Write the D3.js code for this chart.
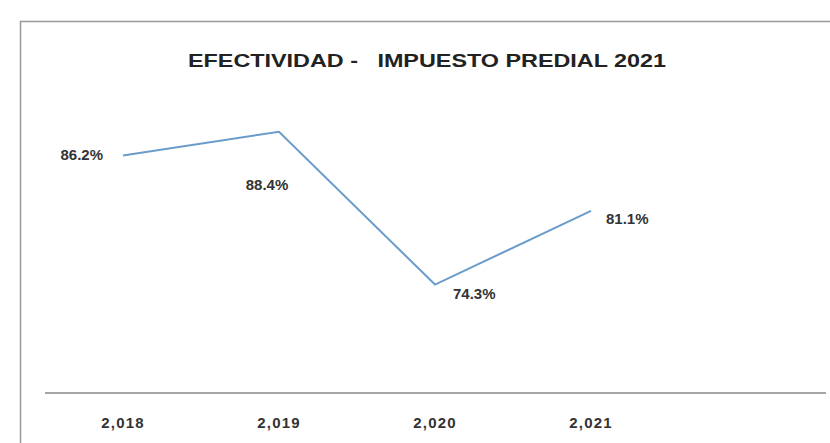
<!DOCTYPE html>
<html><head><meta charset="utf-8">
<script src="https://cdn.jsdelivr.net/npm/d3@7"></script>
<style>body{margin:0;background:#fff}svg{display:block}</style>
</head><body>
<script>
const categories = ["2,018", "2,019", "2,020", "2,021"];
const values = [86.2, 88.4, 74.3, 81.1];
const labels = ["86.2%", "88.4%", "74.3%", "81.1%"];
const title = "EFECTIVIDAD -   IMPUESTO PREDIAL 2021";

const W = 830, H = 443;
const FONT = "Liberation Sans, Arial, sans-serif";
const svg = d3.select("body").append("svg").attr("width", W).attr("height", H);

svg.append("rect").attr("x", 20.5).attr("y", 21.5).attr("width", W).attr("height", H)
  .attr("fill", "#fff").attr("stroke", "#999").attr("stroke-width", 1.5);

svg.append("text").attr("x", 427).attr("y", 67).attr("text-anchor", "middle")
  .attr("font-family", FONT).attr("font-weight", "bold")
  .attr("font-size", 19).attr("fill", "#222").style("white-space", "pre")
  .attr("textLength", 478).attr("lengthAdjust", "spacingAndGlyphs").text(title);

const x = d3.scaleBand().domain(categories).range([45, 669]);
const y = d3.scaleLinear().domain([64.3, 94]).range([393, 71]);

svg.append("line").attr("x1", 45).attr("x2", 826).attr("y1", y(64.3)).attr("y2", y(64.3))
  .attr("stroke", "#888").attr("stroke-width", 1.5);

const xAxis = svg.append("g").attr("transform", `translate(0,${y(64.3)})`)
  .call(d3.axisBottom(x).tickSize(0).tickPadding(24));
xAxis.select(".domain").remove();
xAxis.selectAll("text").attr("font-family", FONT)
  .attr("font-weight", "bold").attr("font-size", 15).attr("fill", "#333")
  .attr("letter-spacing", 1.2);

const cx = d => x(d) + x.bandwidth() / 2;
const line = d3.line().x((d, i) => cx(categories[i])).y(d => y(d));
svg.append("path").datum(values).attr("d", line).attr("fill", "none")
  .attr("stroke", "#6a9ccb").attr("stroke-width", 2);

const offs = [[-20, 4, "end"], [-12, 58, "middle"], [18, 14, "start"], [15, 13, "start"]];
svg.selectAll("text.lbl").data(values).enter().append("text").attr("class", "lbl")
  .attr("x", (d, i) => cx(categories[i]) + offs[i][0])
  .attr("y", (d, i) => y(d) + offs[i][1])
  .attr("text-anchor", (d, i) => offs[i][2])
  .attr("font-family", FONT).attr("font-weight", "bold")
  .attr("font-size", 15).attr("fill", "#333")
  .text((d, i) => labels[i]);
</script>
</body></html>
